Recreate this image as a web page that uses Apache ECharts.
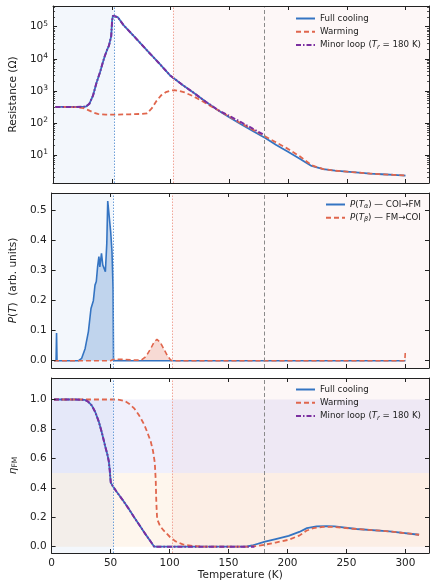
<!DOCTYPE html>
<html><head><meta charset="utf-8">
<script src="https://cdn.jsdelivr.net/npm/echarts@6/dist/echarts.min.js"></script>
<style>html,body{margin:0;padding:0;background:#fff}#c{width:430px;height:582px}</style>
</head><body><div id="c"></div>
<script>
const FONT = 'DejaVu Sans';
const INK = '#222222';
const C_BLUE = '#3474c2', C_RED = '#e0664d', C_PURPLE = '#7b2fa0';
const BG_BLUE = 'rgba(46,117,201,0.06)', BG_PINK = 'rgba(220,80,60,0.045)';
const BG_LAV = 'rgba(110,110,230,0.10)', BG_ORANGE = 'rgba(245,160,60,0.09)';

// characteristic temperatures (K)
const T_alpha = 52, T_beta = 102, T_r = 180;
const T_MAX = 320;

// tick values
const xTicks = [0, 50, 100, 150, 200, 250, 300];
const rDecades = [10, 100, 1000, 10000, 100000];
const pTicks = [0, 0.1, 0.2, 0.3, 0.4, 0.5];
const etaTicks = [0, 0.2, 0.4, 0.6, 0.8, 1.0];

// Panel 1: resistance (Ohm)
const T_cool_R = [2, 10, 20, 28, 31, 34, 37, 40, 42, 44, 46, 47.5, 48.5, 49.5, 50.3, 51, 52, 55, 60, 70, 80, 90, 100, 110, 120, 130, 141, 150, 160, 170, 181, 190, 200, 210, 220, 230, 240, 250, 260, 270, 280, 290, 300];
const R_cool = [316, 316, 316, 324, 398, 708, 1780, 3800, 6920, 12000, 19000, 25100, 28200, 50100, 158000, 219000, 229000, 200000, 112000, 45700, 18200, 7410, 2950, 1550, 851, 457, 240, 151, 91.2, 56.2, 33.1, 20.4, 12.6, 7.59, 4.57, 3.63, 3.24, 3.02, 2.82, 2.63, 2.51, 2.40, 2.29];
const T_warm_R = [2, 10, 20, 26, 30, 34, 38, 45, 55, 65, 75, 80, 84, 88, 92, 96, 100, 103, 107, 112, 117, 122, 128, 134, 141, 150, 160, 170, 181, 190, 200, 210, 220, 230, 240, 250, 260, 270, 280, 290, 300];
const R_warm = [316, 316, 309, 288, 251, 214, 191, 182, 182, 186, 191, 200, 282, 479, 724, 912, 1020, 1050, 1000, 891, 741, 603, 457, 339, 245, 158, 97.7, 61.7, 37.2, 24.5, 15.5, 9.12, 4.79, 3.63, 3.24, 3.02, 2.82, 2.63, 2.51, 2.40, 2.29];
const T_minor_R = [2, 10, 20, 28, 31, 34, 37, 40, 42, 44, 46, 47.5, 48.5, 49.5, 50.3, 51, 52, 55, 60, 70, 80, 90, 100, 110, 120, 130, 141, 150, 160, 170, 180];
const R_minor = [316, 316, 316, 324, 398, 708, 1780, 3800, 6920, 12000, 19000, 25100, 28200, 50100, 158000, 219000, 229000, 200000, 112000, 45700, 18200, 7410, 2950, 1550, 851, 457, 245, 166, 105, 66.1, 41.7];

// Panel 2: transition distributions
const T_Pa = [2, 3.8, 4.2, 4.6, 22.9, 25.5, 28.4, 31.2, 33.4, 35.4, 36.8, 37.9, 39, 40.1, 40.9, 42.3, 43.4, 44.5, 45.6, 46.8, 47.6, 49, 50.1, 51.2, 52.1, 52.5, 300];
const P_a = [0, 0, 0.092, 0, 0, 0.008, 0.04, 0.097, 0.174, 0.2, 0.252, 0.264, 0.313, 0.347, 0.313, 0.358, 0.319, 0.324, 0.297, 0.391, 0.532, 0.53, 0.43, 0.363, 0.241, 0, 0];
const T_Pb = [2, 50, 52, 56, 62, 70, 76, 80, 84, 87, 89.3, 92, 95, 98, 101, 103, 299.5, 300];
const P_b = [0, 0, 0.004, 0.005, 0.004, 0.002, 0.002, 0.014, 0.04, 0.063, 0.071, 0.062, 0.04, 0.018, 0.002, 0, 0, 0.035];

// Panel 3: FM fraction
const T_cool_eta = [2, 20, 28, 31, 34, 37, 40, 42.3, 44, 45.5, 47.3, 48.5, 49.3, 49.8, 50.2, 52, 55, 60, 65, 70, 75, 80, 84, 87, 165, 170, 181, 190, 201, 210, 216.5, 224.7, 233, 240, 258.6, 286.5, 311.6];
const eta_cool = [1, 1, 0.998, 0.985, 0.96, 0.915, 0.85, 0.784, 0.73, 0.68, 0.626, 0.58, 0.52, 0.47, 0.435, 0.41, 0.375, 0.32, 0.262, 0.2, 0.14, 0.08, 0.035, 0, 0, 0.008, 0.034, 0.052, 0.074, 0.1, 0.126, 0.138, 0.14, 0.138, 0.12, 0.104, 0.081];
const T_warm_eta = [2, 55, 57.6, 62, 66, 70, 74, 78.5, 81, 84, 86, 87.5, 88.3, 88.8, 89.5, 92, 95, 100.6, 105, 111.7, 120, 128, 165, 175, 181, 190, 201, 210, 216, 222, 230, 240, 258.6, 286.5, 311.6];
const eta_warm = [1, 1, 0.998, 0.99, 0.97, 0.94, 0.895, 0.83, 0.78, 0.716, 0.65, 0.57, 0.45, 0.3, 0.187, 0.14, 0.11, 0.064, 0.037, 0.014, 0.004, 0, 0, 0.005, 0.014, 0.028, 0.047, 0.075, 0.108, 0.126, 0.134, 0.134, 0.12, 0.104, 0.081];
const T_minor_eta = [2, 20, 28, 31, 34, 37, 40, 42.3, 44, 45.5, 47.3, 48.5, 49.3, 49.8, 50.2, 52, 55, 60, 65, 70, 75, 80, 84, 87, 172];
const eta_minor = [1, 1, 0.998, 0.985, 0.96, 0.915, 0.85, 0.784, 0.73, 0.68, 0.626, 0.58, 0.52, 0.47, 0.435, 0.41, 0.375, 0.32, 0.262, 0.2, 0.14, 0.08, 0.035, 0, 0];

function zip(a, b) { return a.map((t, i) => [t, b[i]]); }

const R_MIN = 1.34, R_MAX = 4.42e5;
const rMinor = [];
for (let e = 0; e <= 5; e++) for (let k = 2; k <= 9; k++) {
  const v = k * Math.pow(10, e);
  if (v > R_MIN && v < R_MAX) rMinor.push(v);
}

const labelBase = { fontFamily: FONT, fontSize: 10.5, color: INK };

function xAx(g, bottom) {
  const lab = bottom && g === 2;
  return {
    type: 'value', gridIndex: g, min: 0, max: T_MAX, position: bottom ? 'bottom' : 'top', z: 5,
    axisLine: { show: true, onZero: false, lineStyle: { color: INK, width: 1 } },
    axisTick: { show: true, inside: true, length: 4, customValues: xTicks, lineStyle: { color: INK, width: 1 } },
    axisLabel: Object.assign({ show: lab, customValues: xTicks, margin: 5 }, labelBase),
    splitLine: { show: false },
    name: lab ? 'Temperature (K)' : '', nameLocation: 'middle', nameGap: 17,
    nameTextStyle: labelBase
  };
}
function yLin(g, pos, min, max, ticks, name, gap) {
  const left = pos === 'left';
  return {
    type: 'value', gridIndex: g, min: min, max: max, position: pos, z: 5,
    axisLine: { show: true, onZero: false, lineStyle: { color: INK, width: 1 } },
    axisTick: { show: true, inside: true, length: 4, customValues: ticks, lineStyle: { color: INK, width: 1 } },
    axisLabel: Object.assign({ show: left, customValues: ticks, margin: 5, formatter: v => v.toFixed(1) }, labelBase),
    splitLine: { show: false },
    name: left ? name : '', nameLocation: 'middle', nameGap: gap, nameRotate: 90,
    nameTextStyle: Object.assign({
      rich: {
        i: { fontFamily: FONT, fontSize: 10.5, fontStyle: 'italic', color: INK },
        s: { fontFamily: FONT, fontSize: 7.5, color: INK, verticalAlign: 'bottom', lineHeight: 8 }
      }
    }, labelBase)
  };
}
function yLog(pos, minor) {
  const left = pos === 'left';
  return {
    type: 'log', logBase: 10, gridIndex: 0, min: R_MIN, max: R_MAX, position: pos, z: 5,
    axisLine: { show: !minor, onZero: false, lineStyle: { color: INK, width: 1 } },
    axisTick: minor
      ? { show: true, inside: true, length: 2, customValues: rMinor, lineStyle: { color: INK, width: 0.8 } }
      : { show: true, inside: true, length: 4, customValues: rDecades, lineStyle: { color: INK, width: 1 } },
    axisLabel: {
      show: left && !minor, customValues: rDecades, margin: 5,
      formatter: v => '{b|10}{sup|' + Math.round(Math.log10(v)) + '}',
      rich: {
        b: { fontFamily: FONT, fontSize: 10.5, color: INK, lineHeight: 14 },
        sup: { fontFamily: FONT, fontSize: 7.5, color: INK, lineHeight: 9, verticalAlign: 'top' }
      }
    },
    splitLine: { show: false },
    name: (left && !minor) ? 'Resistance (Ω)' : '', nameLocation: 'middle', nameGap: 28, nameRotate: 90,
    nameTextStyle: labelBase
  };
}

const vLines = {
  silent: true, symbol: ['none', 'none'], label: { show: false }, animation: false,
  data: [
    { xAxis: T_alpha, lineStyle: { color: '#6c9fd8', width: 1, type: [1.5, 1.5] } },
    { xAxis: T_beta, lineStyle: { color: '#f1a79a', width: 1, type: [1.5, 1.5] } },
    { xAxis: T_r, lineStyle: { color: '#8a8a8a', width: 1, type: [4, 2.5] } }
  ]
};
const vSpans = [
  [{ xAxis: 0, itemStyle: { color: BG_BLUE } }, { xAxis: T_alpha }],
  [{ xAxis: T_beta, itemStyle: { color: BG_PINK } }, { xAxis: T_MAX }]
];
const hBands = [
  [{ yAxis: 0.5, itemStyle: { color: BG_LAV } }, { yAxis: 1.0 }],
  [{ yAxis: 0, itemStyle: { color: BG_ORANGE } }, { yAxis: 0.5 }]
];
function bg(xi, yi, bands) {
  return {
    type: 'line', xAxisIndex: xi, yAxisIndex: yi, data: [], z: 1, silent: true,
    markArea: { silent: true, animation: false, data: bands ? vSpans.concat(bands) : vSpans },
    markLine: vLines
  };
}
function line(name, xi, yi, data, color, type, width, extra) {
  return Object.assign({
    type: 'line', name: name, xAxisIndex: xi, yAxisIndex: yi, data: data, z: 3,
    showSymbol: false, symbol: 'none', smooth: false,
    lineStyle: { color: color, width: width, type: type }, itemStyle: { color: color }
  }, extra || {});
}

const legendText = {
  fontFamily: FONT, fontSize: 8.7, color: INK, lineHeight: 11,
  rich: {
    i: { fontFamily: FONT, fontSize: 8.7, fontStyle: 'italic', color: INK, lineHeight: 11 },
    s: { fontFamily: FONT, fontSize: 6.5, fontStyle: 'italic', color: INK, lineHeight: 7, verticalAlign: 'bottom' }
  }
};
const legendFmt = n => ({
  'Minor loop': 'Minor loop ({i|T}{s|r} = 180 K)',
  'P_alpha': '{i|P}({i|T}{s|α}) — COI→FM',
  'P_beta': '{i|P}({i|T}{s|β}) — FM→COI'
}[n] || n);
function legend(data, left, top) {
  return {
    data: data, orient: 'vertical', left: left, top: top, padding: 0,
    itemWidth: 19, itemHeight: 10, itemGap: 2.3, selectedMode: false,
    itemStyle: { color: 'rgba(0,0,0,0)', borderColor: 'rgba(0,0,0,0)', borderWidth: 0 },
    textStyle: legendText, formatter: legendFmt
  };
}

const option = {
  animation: false,
  backgroundColor: '#ffffff',
  grid: [
    { left: 46, top: 6, width: 383, height: 177 },
    { left: 46, top: 193, width: 383, height: 175 },
    { left: 46, top: 378, width: 383, height: 176 }
  ],
  xAxis: [xAx(0, true), xAx(0, false), xAx(1, true), xAx(1, false), xAx(2, true), xAx(2, false)],
  yAxis: [
    yLog('left', false), yLog('right', false), yLog('left', true), yLog('right', true),
    yLin(1, 'left', -0.0243, 0.559, pTicks, '{i|P}({i|T})  (arb. units)', 24),
    yLin(1, 'right', -0.0243, 0.559, pTicks, '', 24),
    yLin(2, 'left', -0.043, 1.146, etaTicks, '{i|η}{s|FM}', 24),
    yLin(2, 'right', -0.043, 1.146, etaTicks, '', 24)
  ],
  legend: [
    legend(['Full cooling', 'Warming', 'Minor loop'], 295, 13),
    legend(['P_alpha', 'P_beta'], 325, 199),
    legend(['Full cooling', 'Warming', 'Minor loop'], 295, 384)
  ],
  series: [
    bg(0, 0, null),
    line('Full cooling', 0, 0, zip(T_cool_R, R_cool), C_BLUE, 'solid', 1.8),
    line('Warming', 0, 0, zip(T_warm_R, R_warm), C_RED, [5, 3], 1.8),
    line('Minor loop', 0, 0, zip(T_minor_R, R_minor), C_PURPLE, [5, 2, 1.5, 2], 2),
    bg(2, 4, null),
    line('P_alpha', 2, 4, zip(T_Pa, P_a), C_BLUE, 'solid', 1.6, { areaStyle: { color: 'rgba(52,116,194,0.38)' } }),
    line('P_beta', 2, 4, zip(T_Pb, P_b), C_RED, [5, 3], 1.6, { areaStyle: { color: 'rgba(224,102,77,0.35)' } }),
    bg(4, 6, hBands),
    line('Full cooling', 4, 6, zip(T_cool_eta, eta_cool), C_BLUE, 'solid', 1.8),
    line('Warming', 4, 6, zip(T_warm_eta, eta_warm), C_RED, [5, 3], 1.8),
    line('Minor loop', 4, 6, zip(T_minor_eta, eta_minor), C_PURPLE, [5, 2, 1.5, 2], 2)
  ]
};

const chart = echarts.init(document.getElementById('c'), null, { renderer: 'canvas' });
chart.setOption(option);
</script></body></html>
